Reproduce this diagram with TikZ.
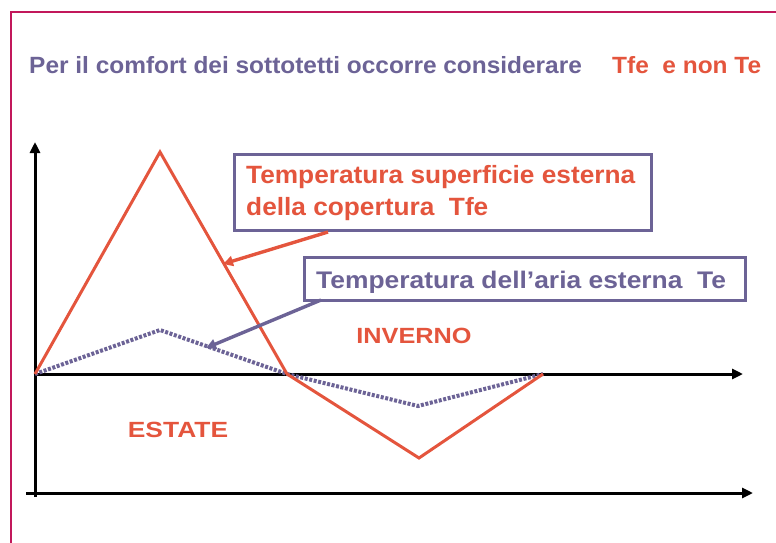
\documentclass[tikz,border=0pt]{standalone}
\usepackage{fontspec}
\setmainfont{Liberation Sans}
\usetikzlibrary{arrows.meta}
\definecolor{tred}{HTML}{E4553D}
\definecolor{tpurple}{HTML}{6C6396}
\definecolor{frame}{HTML}{C2185B}
\tikzset{
  axis/.style={line width=3pt, -{Triangle[length=11pt,width=10pt]}},
  tfe/.style={tred, line width=3pt, line join=miter},
  te/.style={tpurple, line width=4pt, dash pattern=on 3pt off 1.6pt},
  lbox/.style={draw=tpurple, line width=3pt, fill=white, anchor=north west, inner sep=0pt},
  pointer/.style={line width=3.4pt, -{Triangle[length=10pt,width=10pt]}},
  lbl/.style={inner sep=0pt, font=\bfseries\fontsize{#1}{#1}\selectfont},
  lbl/.default=24
}
\begin{document}
\begin{tikzpicture}[x=1pt,y=-1pt]
\useasboundingbox (0,0) rectangle (776,543);
% frame
\draw [frame, line width=2.2pt] (11,560) -- (11,12) -- (790,12);
% title
\node [lbl=23.5, tpurple, anchor=base west, xscale=1.04] (title) at (29,74) {Per il comfort dei sottotetti occorre considerare};
\node [lbl=23.5, tred, anchor=base west, xscale=1.04] (titlered) at (612,74) {Tfe\ \ e non Te};
% axes
\coordinate (O) at (35,374);
\draw [axis] (35,497) -- (35,142);
\draw [axis] (O) -- (743,374);
\draw [axis] (26,493) -- (753,493);
% curves
\coordinate (fpeak) at (160,152);
\coordinate (zero) at (287,374);
\coordinate (flow) at (419,458);
\coordinate (fend) at (543,374);
\coordinate (epeak) at (160,330);
\coordinate (elow) at (418,406);
\draw [te] (O) -- (epeak) -- (zero) -- (elow) -- (fend);
\draw [tfe] (O) -- (fpeak) -- (zero) -- (flow) -- (fend);
% labels
\node [lbox, minimum width=417pt, minimum height=76pt] (tfebox) at (233,153) {};
\node [lbl=25, tred, anchor=base west, xscale=1.05] (tfetext1) at (246,183) {Temperatura superficie esterna};
\node [lbl=25, tred, anchor=base west, xscale=1.05] (tfetext2) at (246,215) {della copertura\ \ Tfe};
\node [lbox, minimum width=441pt, minimum height=43pt] (tebox) at (303,256) {};
\node [lbl=24, tpurple, anchor=base west, xscale=1.1] (tetext) at (316,288) {Temperatura dell’aria esterna\ \ Te};
\coordinate (tfefrom) at (328,232);
\coordinate (tfetip) at (223,264);
\coordinate (tefrom) at (321,300);
\coordinate (tetip) at (206,348);
\draw [pointer, tred] (tfefrom) -- (tfetip);
\draw [pointer, tpurple] (tefrom) -- (tetip);
\node [lbl=22, tred, anchor=base, xscale=1.15] (inverno) at (414,343) {INVERNO};
\node [lbl=22, tred, anchor=base, xscale=1.2] (estate) at (178,437) {ESTATE};
\end{tikzpicture}
\end{document}
